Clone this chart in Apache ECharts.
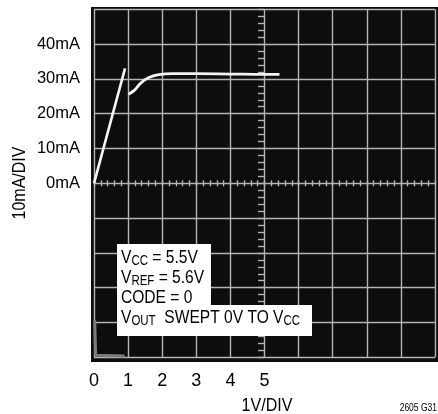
<!DOCTYPE html>
<html>
<head>
<meta charset="utf-8">
<script src="https://cdn.jsdelivr.net/npm/echarts@6/dist/echarts.min.js"></script>
<style>
html,body{margin:0;padding:0;background:#fff;}
#c{width:438px;height:414px;}
</style>
</head>
<body>
<div id="c"></div>
<script>
// Data (volts, mA)
const xTickLabels = [0, 1, 2, 3, 4, 5];
const yTickLabels = [0, 10, 20, 30, 40];
const rampTrace = [[0, 0], [0.91, 33.0]];
const limitTrace = [[1.01, 25.6], [1.18, 26.7], [1.37, 28.8], [1.61, 30.4], [1.9, 31.2], [2.3, 31.5], [3.0, 31.5], [4.0, 31.4], [5.0, 31.3], [5.44, 31.3]];
const glareTrace = [[0.02, -39.4], [0.05, -49.4], [0.9, -49.6]];

const FONT = '"Liberation Sans", Arial, sans-serif';
const GRID = { left: 94, top: 9.3, width: 348, height: 348 };
const gridColor = '#b4b4b4';

const chart = echarts.init(document.getElementById('c'), null, { renderer: 'canvas' });

const main = { fontFamily: FONT, fontSize: 19, lineHeight: 20, color: '#000', verticalAlign: 'bottom', padding: [0, 0, 1, 0] };
const sub = { fontFamily: FONT, fontSize: 14, lineHeight: 14, color: '#000', verticalAlign: 'bottom' };
function line(txt, top) {
  return {
    type: 'text', x: 121, y: top, scaleX: 0.82, z: 200,
    style: { text: txt, rich: { m: main, s: sub }, fontFamily: FONT, fontSize: 19, textVerticalAlign: 'top' }
  };
}

const option = {
  backgroundColor: '#fff',
  animation: false,
  grid: Object.assign({ show: true, backgroundColor: '#0d0d0d', borderWidth: 0 }, GRID),
  xAxis: [
    {
      type: 'value', min: 0, max: 10, interval: 1, position: 'bottom',
      axisLine: { show: false, onZero: false }, axisTick: { show: false },
      splitLine: { show: true, lineStyle: { color: gridColor, width: 1.4 } },
      axisLabel: {
        margin: 15, fontFamily: FONT, fontSize: 18, color: '#000',
        formatter: v => xTickLabels.indexOf(v) >= 0 ? String(v) : ''
      }
    },
    {
      type: 'value', min: 0, max: 10, interval: 1, position: 'top', offset: -177,
      axisLine: { show: false, onZero: false },
      axisTick: { show: true, length: 6, lineStyle: { color: gridColor, width: 1.4 } },
      minorTick: { show: true, splitNumber: 5, length: 6, lineStyle: { color: gridColor, width: 1.4 } },
      splitLine: { show: false }, axisLabel: { show: false }
    }
  ],
  yAxis: [
    {
      type: 'value', min: -50, max: 50, interval: 10, position: 'left',
      axisLine: { show: false, onZero: false }, axisTick: { show: false },
      splitLine: { show: true, lineStyle: { color: gridColor, width: 1.4 } },
      axisLabel: {
        margin: 14, fontFamily: FONT, fontSize: 16.5, color: '#000',
        formatter: v => yTickLabels.indexOf(v) >= 0 ? v + 'mA' : ''
      }
    },
    {
      type: 'value', min: -50, max: 50, interval: 10, position: 'right', offset: -177,
      axisLine: { show: false, onZero: false },
      axisTick: { show: true, length: 6, lineStyle: { color: gridColor, width: 1.4 } },
      minorTick: { show: true, splitNumber: 5, length: 6, lineStyle: { color: gridColor, width: 1.4 } },
      splitLine: { show: false }, axisLabel: { show: false }
    }
  ],
  graphic: [
    { type: 'rect', shape: { x: 91, y: 7, width: 350, height: 355 }, style: { fill: '#0d0d0d' }, z: -100, silent: true },
    {
      type: 'polygon', z: 150,
      shape: { points: [[117, 244], [211, 244], [211, 305], [312, 305], [312, 336], [117, 336]] },
      style: { fill: '#fff' }
    },
    line('{m|V}{s|CC}{m| = 5.5V}', 248),
    line('{m|V}{s|REF}{m| = 5.6V}', 268),
    line('{m|CODE = 0}', 288),
    line('{m|V}{s|OUT}{m|  SWEPT 0V TO V}{s|CC}', 308),
    {
      type: 'text', x: 20, y: 183, rotation: Math.PI / 2, scaleX: 0.89, z: 100,
      style: { text: '10mA/DIV', fontFamily: FONT, fontSize: 18, fill: '#000', textAlign: 'center', textVerticalAlign: 'middle' }
    },
    {
      type: 'text', x: 267, y: 406, scaleX: 0.89, z: 100,
      style: { text: '1V/DIV', fontFamily: FONT, fontSize: 18, fill: '#000', textAlign: 'center', textVerticalAlign: 'middle' }
    },
    {
      type: 'text', x: 437, y: 408, scaleX: 0.85, z: 100,
      style: { text: '2605 G31', fontFamily: FONT, fontSize: 10, fill: '#000', textAlign: 'right', textVerticalAlign: 'middle' }
    }
  ],
  series: [
    { type: 'line', data: glareTrace, showSymbol: false, lineStyle: { color: '#7a7a7a', width: 3 }, z: 5 },
    { type: 'line', data: rampTrace, showSymbol: false, lineStyle: { color: '#f4f4f4', width: 2.6 }, z: 10 },
    { type: 'line', data: limitTrace, smooth: 0.4, showSymbol: false, lineStyle: { color: '#f4f4f4', width: 2.8 }, z: 10 }
  ]
};
chart.setOption(option);
</script>
</body>
</html>
